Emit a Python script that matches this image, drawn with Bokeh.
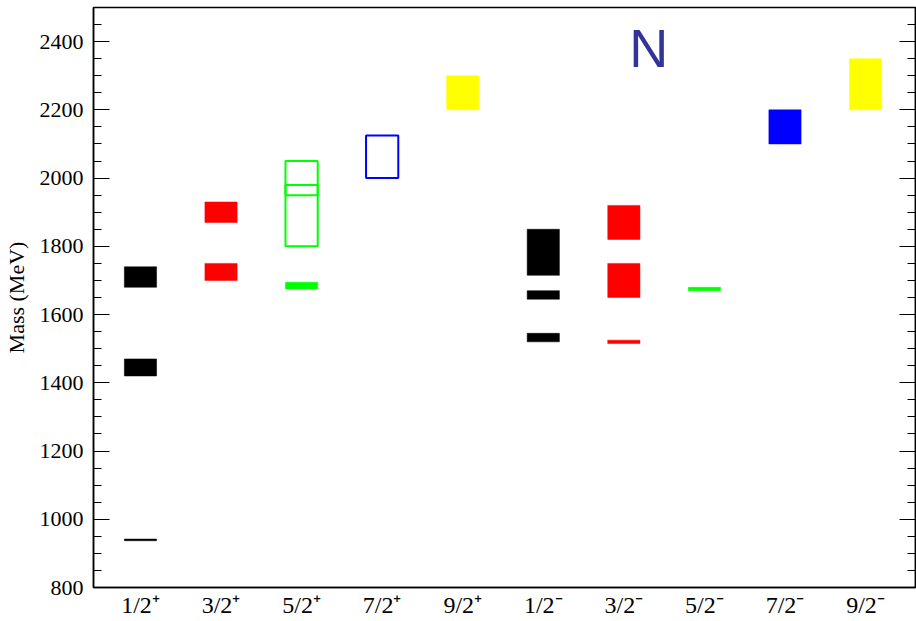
from bokeh.plotting import figure
from bokeh.models import (Range1d, FixedTicker, LinearAxis, Label, ColumnDataSource,
                          CustomLabelingPolicy)
from bokeh.embed import file_html
from bokeh.resources import INLINE

# ---- data -------------------------------------------------------------
categories = ["1/2⁺", "3/2⁺", "5/2⁺", "7/2⁺", "9/2⁺",
              "1/2⁻", "3/2⁻", "5/2⁻", "7/2⁻", "9/2⁻"]
cat_pos = list(range(1, len(categories) + 1))

# filled boxes: category position, mass low, mass high (MeV), colour
filled_cat = [1, 1, 1, 2, 2, 3, 5, 6, 6, 6, 7, 7, 7, 8, 9, 10]
filled_lo = [937, 1420, 1680, 1700, 1870, 1675, 2200, 1520, 1645, 1715, 1515, 1650, 1820, 1670, 2100, 2200]
filled_hi = [942, 1470, 1740, 1750, 1930, 1695, 2300, 1545, 1670, 1850, 1525, 1750, 1920, 1680, 2200, 2350]
filled_color = ["black", "black", "black", "red", "red", "#00ff00", "yellow",
                "black", "black", "black", "red", "red", "red", "#00ff00", "blue", "yellow"]

# open boxes
open_cat = [3, 3, 4]
open_lo = [1800, 1950, 2000]
open_hi = [1980, 2050, 2125]
open_color = ["#00ff00", "#00ff00", "blue"]

y_major = [800, 1000, 1200, 1400, 1600, 1800, 2000, 2200, 2400]
y_minor = list(range(850, 2500, 50))

# ---- figure -----------------------------------------------------------
HALF = 0.2
X0, X1 = 0.417, 10.62
Y0, Y1 = 800, 2500
p = figure(width=916, height=621, output_backend="svg", toolbar_location=None,
           x_range=Range1d(X0, X1), y_range=Range1d(Y0, Y1),
           min_border_left=93, min_border_top=7, min_border_right=1, min_border_bottom=34)
p.xgrid.visible = False
p.ygrid.visible = False
p.outline_line_color = "black"
p.outline_line_width = 1.5
p.background_fill_color = "white"

fsrc = ColumnDataSource(dict(
    left=[c - HALF for c in filled_cat], right=[c + HALF for c in filled_cat],
    bottom=filled_lo, top=filled_hi, color=filled_color))
p.quad(left="left", right="right", bottom="bottom", top="top", source=fsrc,
       fill_color="color", line_color="color", line_width=0.5)

osrc = ColumnDataSource(dict(
    left=[c - HALF for c in open_cat], right=[c + HALF for c in open_cat],
    bottom=open_lo, top=open_hi, color=open_color))
p.quad(left="left", right="right", bottom="bottom", top="top", source=osrc,
       fill_color=None, line_color="color", line_width=2)

# y axis (left)
yt = FixedTicker(ticks=y_major, minor_ticks=y_minor)
ya = p.yaxis[0]
ya.ticker = yt
ya.axis_label = "Mass (MeV)"
ya.axis_label_text_font = "Liberation Serif"
ya.axis_label_text_font_style = "normal"
ya.axis_label_text_font_size = "22px"
ya.axis_label_text_color = "black"
ya.axis_label_standoff = 8
ya.major_label_text_font = "Liberation Serif"
ya.major_label_text_font_size = "22px"
ya.major_label_text_color = "black"
ya.major_label_standoff = 10
ya.major_tick_in = 16
ya.major_tick_out = 0
ya.minor_tick_in = 8
ya.minor_tick_out = 0
ya.axis_line_color = "black"
ya.axis_line_width = 1.5
ya.major_tick_line_color = "black"
ya.minor_tick_line_color = "black"

# right axis with mirrored ticks, no labels
no_labels = CustomLabelingPolicy(
    code="for (let i = 0; i < indices.size; i++) { indices.unset(i) } return indices")
ra = LinearAxis(ticker=yt, major_tick_in=16, major_tick_out=0, minor_tick_in=8, minor_tick_out=0,
                major_label_text_font_size="1px", major_label_policy=no_labels,
                axis_line_color="black", axis_line_width=1.5, major_label_standoff=0,
                major_tick_line_color="black", minor_tick_line_color="black",
                fixed_location=X1)
p.add_layout(ra, "right")

# x axis (bottom)
xa = p.xaxis[0]
xa.ticker = FixedTicker(ticks=cat_pos, minor_ticks=[])
xa.major_label_overrides = {c: lab for c, lab in zip(cat_pos, categories)}
xa.major_label_text_font = "Liberation Serif"
xa.major_label_text_font_size = "24px"
xa.major_label_text_color = "black"
xa.major_label_standoff = 4
xa.major_tick_in = 0
xa.major_tick_out = 0
xa.minor_tick_in = 0
xa.minor_tick_out = 0
xa.axis_line_color = "black"
xa.axis_line_width = 1.5

p.add_layout(Label(x=7.31, y=2382, text="N", text_font="Liberation Sans",
                   text_font_size="54px", text_color="#333399",
                   text_align="center", text_baseline="alphabetic"))

open("out.html", "w").write(file_html(p, INLINE))
